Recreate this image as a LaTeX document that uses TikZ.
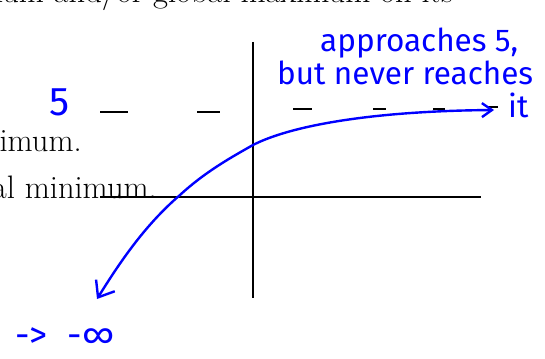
\documentclass[tikz,border=0pt]{standalone}
\usepackage{fontspec}
\newfontfamily\handfont{Fira Sans}
\usetikzlibrary{arrows.meta}
\tikzset{
  axis/.style={line width=2.2pt, black},
  tick/.style={line width=2.6pt, black},
  ink/.style={blue, line width=2.4pt, line cap=round, line join=round},
  hand/.style={blue, inner sep=0pt, font=\handfont\fontsize{31.5}{33}\selectfont},
  book/.style={black, inner sep=0pt, font=\fontsize{32.5}{36}\selectfont},
}
\begin{document}
\begin{tikzpicture}[x=1pt,y=-1pt]
\clip (0,0) rectangle (545,358);
\fill[white] (0,0) rectangle (545,358);
% printed text fragments
\node[book, anchor=base east] (t1) at (453,3) {imum and/or global maximum on its};
\node[book, anchor=base east] (t2) at (82,152) {imum.};
\node[book, anchor=base east] (t3) at (157,198) {bal minimum.};
% axes
\coordinate (yt) at (253,42);
\coordinate (yb) at (253,298);
\coordinate (xl) at (100,197);
\coordinate (xr) at (481,197);
\draw[axis] (yt) -- (yb);
\draw[axis] (xl) -- (xr);
% asymptote dashes
\draw[tick] (100,112) -- (128,112);
\draw[tick] (197,112) -- (220,112);
\draw[tick] (293,109) -- (312,109);
\draw[tick] (373,109) -- (386,109);
\draw[tick] (433,109) -- (445,109);
\draw[tick] (488,107) -- (498,107);
% curve
\coordinate (cs) at (97,299);
\coordinate (c1) at (180,195);
\coordinate (c2) at (253,145);
\coordinate (ce) at (494,110);
\draw[ink, {Straight Barb[length=14pt,width=22pt,line width=2.4pt]}-{Straight Barb[length=10pt,width=14pt,line width=2.4pt]}]
  (cs) .. controls (120,262) and (145,225) .. (c1)
       .. controls (205,172) and (230,158) .. (c2)
       .. controls (290,126) and (370,111) .. (ce);
% handwriting
\node[hand, anchor=center, font=\handfont\fontsize{40}{42}\selectfont] (five) at (60,102) {5};
\node[hand, anchor=base west] (l1) at (320,52) {approaches 5,};
\node[hand, anchor=base west] (l2) at (277,85) {but never reaches};
\node[hand, anchor=base west] (l3) at (508,118) {it};
\node[hand, anchor=base west, font=\handfont\fontsize{36}{38}\selectfont] (inf) at (15,347) {->\hspace{20pt}-∞};
\end{tikzpicture}
\end{document}
